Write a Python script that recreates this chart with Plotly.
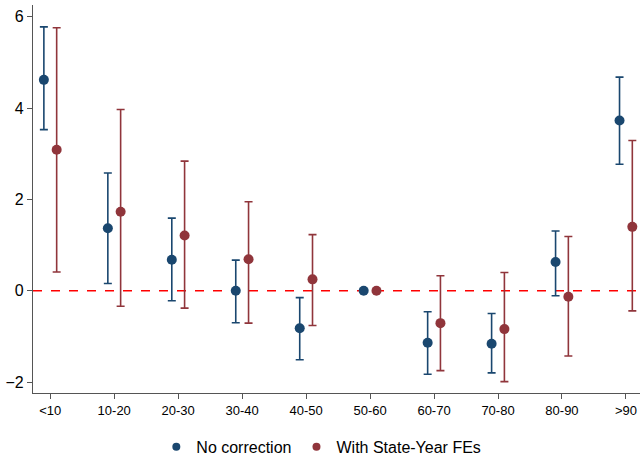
import plotly.graph_objects as go

categories = ["<10", "10-20", "20-30", "30-40", "40-50", "50-60", "60-70", "70-80", "80-90", ">90"]

nocorr_est = [4.62, 1.37, 0.68, 0.00, -0.82, 0.00, -1.14, -1.16, 0.63, 3.73]
nocorr_hi = [5.78, 2.58, 1.59, 0.67, -0.15, 0.00, -0.46, -0.50, 1.31, 4.68]
nocorr_lo = [3.53, 0.16, -0.22, -0.70, -1.51, 0.00, -1.83, -1.80, -0.11, 2.77]

fe_est = [3.09, 1.73, 1.21, 0.69, 0.25, 0.00, -0.71, -0.84, -0.13, 1.40]
fe_hi = [5.76, 3.97, 2.84, 1.95, 1.23, 0.00, 0.33, 0.40, 1.19, 3.29]
fe_lo = [0.41, -0.34, -0.38, -0.71, -0.76, 0.00, -1.75, -1.99, -1.43, -0.44]

NAVY = "#1a476f"
MAROON = "#90353b"

idx = list(range(len(categories)))


def add_series(fig, name, est, hi, lo, color, shift):
    xs = [i + shift for i in idx]
    fig.add_trace(go.Scatter(
        x=xs, y=est, mode="markers", name=name, showlegend=False,
        marker=dict(color=color, size=10),
        error_y=dict(
            type="data", symmetric=False,
            array=[h - e for h, e in zip(hi, est)],
            arrayminus=[e - l for e, l in zip(est, lo)],
            color=color, thickness=1.6, width=4,
        ),
    ))
    # legend entry
    fig.add_trace(go.Scatter(
        x=[None], y=[None], mode="markers", name=name,
        marker=dict(color=color, size=8),
    ))


fig = go.Figure()
add_series(fig, "No correction", nocorr_est, nocorr_hi, nocorr_lo, NAVY, -0.1)
add_series(fig, "With State-Year FEs", fe_est, fe_hi, fe_lo, MAROON, 0.1)

fig.add_shape(type="line", xref="paper", x0=0, x1=1, yref="y", y0=0, y1=0,
              line=dict(color="#ff0000", width=1.5, dash="dash"), layer="below")

fig.update_layout(
    width=640, height=457,
    margin=dict(l=33, r=0, t=5, b=64, autoexpand=False),
    paper_bgcolor="white", plot_bgcolor="white",
    font=dict(family="Liberation Sans, Arial, sans-serif", color="#000000"),
    showlegend=True,
    legend=dict(orientation="h", x=0.475, xanchor="center", y=-0.095, yanchor="top",
                font=dict(size=16), itemwidth=30),
)
fig.update_xaxes(
    range=[-0.27, 9.22], tickvals=idx, ticktext=categories,
    showgrid=False, zeroline=False, showline=True, linecolor="#555555", linewidth=1.3,
    ticks="outside", ticklen=5, tickcolor="#555555", tickfont=dict(size=13),
)
fig.update_yaxes(
    range=[-2.24, 6.26], tickvals=[-2, 0, 2, 4, 6],
    showgrid=False, zeroline=False, showline=True, linecolor="#555555", linewidth=1.3,
    ticks="outside", ticklen=5, tickcolor="#555555", tickfont=dict(size=16),
)

fig.write_html("out.html")
